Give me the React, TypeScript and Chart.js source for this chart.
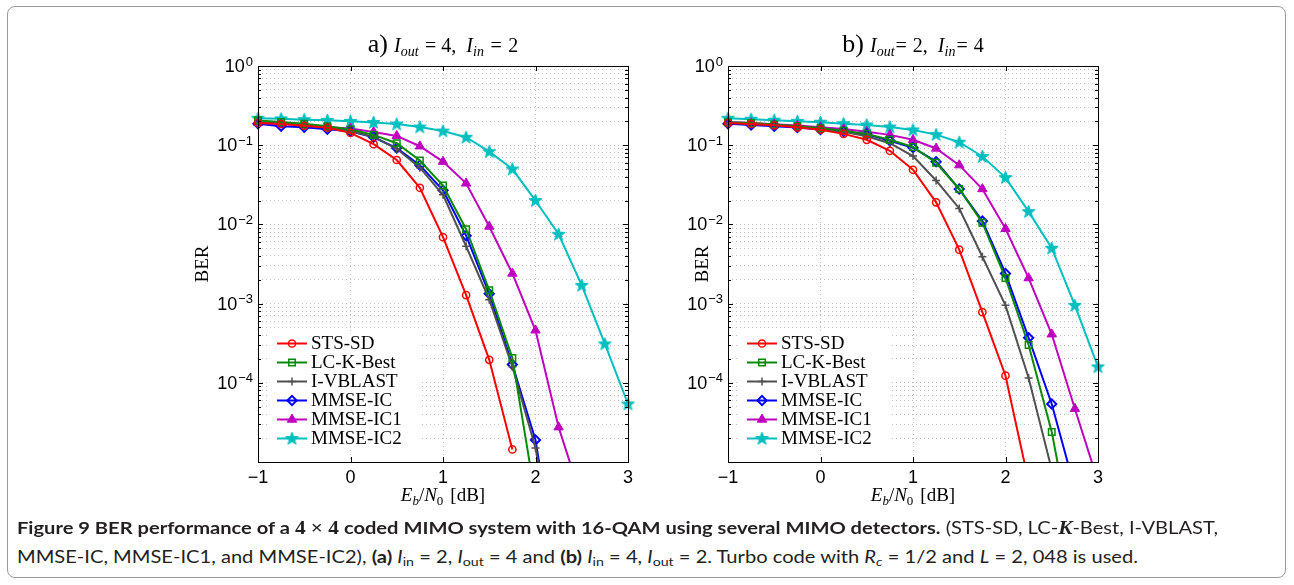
import React, { useEffect, useLayoutEffect, useRef } from 'react';
import { Chart, registerables } from 'chart.js';
import { drawPoint } from 'chart.js/helpers';

Chart.register(...registerables);

// Eb/N0 sweep in dB
const ebn0 = [-1, -0.75, -0.5, -0.25, 0, 0.25, 0.5, 0.75, 1, 1.25, 1.5, 1.75, 2, 2.25, 2.5, 2.75, 3];
const xTickValues = [-1, 0, 1, 2, 3];
const yExponents = [-5, -4, -3, -2, -1, 0];
const yLabelExponents = [-4, -3, -2, -1, 0];
const detectors = ['STS-SD', 'LC-K-Best', 'I-VBLAST', 'MMSE-IC', 'MMSE-IC1', 'MMSE-IC2'];

// (a) Iout = 4, Iin = 2
const berA_STS = [0.19, 0.185, 0.176, 0.166, 0.143, 0.103, 0.065, 0.029, 0.0069, 0.00128, 0.000195, 1.44e-5];
const berA_LCK = [0.205, 0.196, 0.186, 0.174, 0.158, 0.135, 0.106, 0.064, 0.031, 0.0087, 0.00147, 0.000206, 3.5e-6];
const berA_VBLAST = [0.195, 0.188, 0.179, 0.167, 0.151, 0.127, 0.09, 0.052, 0.0236, 0.0053, 0.00112, 0.00016, 1.5e-5, 4e-7];
const berA_IC = [0.186, 0.174, 0.168, 0.159, 0.15, 0.126, 0.092, 0.056, 0.027, 0.0072, 0.00133, 0.00017, 1.9e-5, 3e-7];
const berA_IC1 = [0.193, 0.186, 0.178, 0.168, 0.162, 0.147, 0.131, 0.097, 0.062, 0.033, 0.0094, 0.0024, 0.00046, 2.75e-5, 3.4e-6];
const berA_IC2 = [0.219, 0.215, 0.21, 0.206, 0.2, 0.194, 0.185, 0.17, 0.151, 0.126, 0.083, 0.05, 0.02, 0.0075, 0.0017, 0.00031, 5.4e-5];

// (b) Iout = 2, Iin = 4
const berB_STS = [0.19, 0.185, 0.178, 0.168, 0.157, 0.139, 0.117, 0.085, 0.049, 0.019, 0.0048, 0.00078, 0.000123, 5.6e-6];
const berB_LCK = [0.195, 0.19, 0.182, 0.174, 0.164, 0.152, 0.139, 0.117, 0.095, 0.06, 0.028, 0.0105, 0.0021, 0.0003, 2.4e-5, 7e-7];
const berB_VBLAST = [0.192, 0.187, 0.18, 0.171, 0.162, 0.148, 0.13, 0.106, 0.073, 0.0358, 0.0159, 0.0039, 0.00095, 0.000115, 8e-6];
const berB_IC = [0.186, 0.18, 0.174, 0.167, 0.158, 0.149, 0.137, 0.114, 0.093, 0.062, 0.0279, 0.011, 0.0024, 0.00037, 5.4e-5, 4.6e-6];
const berB_IC1 = [0.196, 0.19, 0.184, 0.177, 0.169, 0.16, 0.148, 0.135, 0.117, 0.091, 0.056, 0.028, 0.0088, 0.0021, 0.00041, 4.7e-5, 5.7e-6];
const berB_IC2 = [0.219, 0.213, 0.207, 0.2, 0.195, 0.187, 0.18, 0.17, 0.156, 0.136, 0.109, 0.072, 0.039, 0.0145, 0.005, 0.00095, 0.000159];

const seriesA = [berA_STS, berA_LCK, berA_VBLAST, berA_IC, berA_IC1, berA_IC2];
const seriesB = [berB_STS, berB_LCK, berB_VBLAST, berB_IC, berB_IC1, berB_IC2];

const lineColors = ['#ff0000', '#078a07', '#505050', '#0000ff', '#bf00bf', '#00bfbf'];

const SERIF = '"Liberation Serif", "Times New Roman", serif';
const SANS = '"Liberation Sans", Arial, sans-serif';

// a run of text pieces; gap = extra horizontal space before the piece
type Seg = { t: string; font: string; dy?: number; gap?: number };

function drawSegments(ctx: CanvasRenderingContext2D, segs: Seg[], cx: number, baseline: number) {
  let total = 0;
  for (const s of segs) {
    ctx.font = s.font;
    total += (s.gap || 0) + ctx.measureText(s.t).width;
  }
  let x = cx - total / 2;
  ctx.textAlign = 'left';
  ctx.textBaseline = 'alphabetic';
  for (const s of segs) {
    ctx.font = s.font;
    x += s.gap || 0;
    ctx.fillText(s.t, x, baseline + (s.dy || 0));
    x += ctx.measureText(s.t).width;
  }
}

const M = `20px ${SERIF}`;
const MI = `italic 20px ${SERIF}`;
const SUBI = `italic 14px ${SERIF}`;

const titleA: Seg[] = [
  { t: 'a)', font: `26px ${SERIF}` },
  { t: 'I', font: MI, gap: 6 },
  { t: 'out', font: SUBI, dy: 4 },
  { t: '=', font: M, gap: 6.5 },
  { t: '4,', font: M, gap: 5 },
  { t: 'I', font: MI, gap: 10 },
  { t: 'in', font: SUBI, dy: 4 },
  { t: '=', font: M, gap: 6.5 },
  { t: '2', font: M, gap: 6.5 },
];
const titleB: Seg[] = [
  { t: 'b)', font: `26px ${SERIF}` },
  { t: 'I', font: MI, gap: 6 },
  { t: 'out', font: SUBI, dy: 4 },
  { t: '=', font: M, gap: 1 },
  { t: '2,', font: M, gap: 6 },
  { t: 'I', font: MI, gap: 10 },
  { t: 'in', font: SUBI, dy: 4 },
  { t: '=', font: M, gap: 1 },
  { t: '4', font: M, gap: 6 },
];
const xTitle: Seg[] = [
  { t: 'E', font: `italic 19px ${SERIF}` },
  { t: 'b', font: `italic 13px ${SERIF}`, dy: 4 },
  { t: '/', font: `19px ${SERIF}` },
  { t: 'N', font: `italic 19px ${SERIF}` },
  { t: '0', font: `13px ${SERIF}`, dy: 4 },
  { t: '[dB]', font: `19px ${SERIF}`, gap: 7 },
];

const figureDecor = {
  id: 'figureDecor',
  afterDraw(chart: any, _args: any, opts: any) {
    const { ctx, chartArea: a } = chart;
    const xs = chart.scales.x;
    const ys = chart.scales.y;
    ctx.save();

    // legend inside the axes
    ctx.fillStyle = '#ffffff';
    ctx.fillRect(a.left + 10, a.top + 265, 152, 119);
    chart.data.datasets.forEach((ds: any, i: number) => {
      const cy = a.top + 277.5 + 19 * i;
      ctx.strokeStyle = ds.borderColor;
      ctx.lineWidth = 2;
      ctx.beginPath();
      ctx.moveTo(a.left + 19, cy);
      ctx.lineTo(a.left + 49, cy);
      ctx.stroke();
      ctx.fillStyle = ds.pointBackgroundColor;
      ctx.strokeStyle = ds.pointBorderColor;
      ctx.lineWidth = ds.pointBorderWidth;
      drawPoint(ctx, { pointStyle: ds.pointStyle, radius: ds.pointRadius, rotation: 0, borderWidth: ds.pointBorderWidth } as any, a.left + 34, cy);
      ctx.fillStyle = '#000';
      ctx.font = `19px ${SERIF}`;
      ctx.textAlign = 'left';
      ctx.textBaseline = 'middle';
      ctx.fillText(ds.label, a.left + 53, cy + 1);
    });

    // axes box and inward ticks
    ctx.strokeStyle = '#000';
    ctx.lineWidth = 1;
    ctx.strokeRect(a.left + 0.5, a.top + 0.5, a.right - a.left, a.bottom - a.top);
    ctx.beginPath();
    for (const v of xTickValues) {
      const px = Math.round(xs.getPixelForValue(v)) + 0.5;
      ctx.moveTo(px, a.bottom);
      ctx.lineTo(px, a.bottom - 5);
      ctx.moveTo(px, a.top);
      ctx.lineTo(px, a.top + 5);
    }
    for (const t of ys.ticks) {
      const py = Math.round(ys.getPixelForValue(t.value)) + 0.5;
      const len = t.major ? 5 : 3;
      ctx.moveTo(a.left, py);
      ctx.lineTo(a.left + len, py);
      ctx.moveTo(a.right, py);
      ctx.lineTo(a.right - len, py);
    }
    ctx.stroke();

    // y tick labels 10^n
    ctx.fillStyle = '#000';
    for (const e of yLabelExponents) {
      const py = ys.getPixelForValue(Math.pow(10, e));
      const exp = e === 0 ? '0' : '\u2212' + String(-e);
      ctx.font = `13px ${SANS}`;
      const ew = ctx.measureText(exp).width;
      ctx.font = `18px ${SANS}`;
      const tw = ctx.measureText('10').width;
      const right = a.left - 5;
      ctx.textAlign = 'left';
      ctx.textBaseline = 'middle';
      ctx.fillText('10', right - ew - tw - 1, py + 1);
      ctx.font = `13px ${SANS}`;
      ctx.textBaseline = 'alphabetic';
      ctx.fillText(exp, right - ew, py - 0.5);
    }

    // axis titles and panel title
    ctx.save();
    ctx.translate(a.left + opts.yTitleDx, (a.top + a.bottom) / 2);
    ctx.rotate(-Math.PI / 2);
    ctx.font = `19px ${SERIF}`;
    ctx.textAlign = 'center';
    ctx.textBaseline = 'middle';
    ctx.fillText('BER', 0, 0);
    ctx.restore();

    drawSegments(ctx, xTitle, (a.left + a.right) / 2, a.bottom + 39);
    drawSegments(ctx, opts.title, (a.left + a.right) / 2, a.top - 14);
    ctx.restore();
  },
};

function makeStar(color: string): HTMLCanvasElement {
  const c = document.createElement('canvas');
  c.width = 15;
  c.height = 15;
  const g = c.getContext('2d')!;
  g.beginPath();
  for (let k = 0; k < 10; k++) {
    const r = k % 2 === 0 ? 6.8 : 2.8;
    const ang = -Math.PI / 2 + (k * Math.PI) / 5;
    const px = 7.5 + r * Math.cos(ang);
    const py = 7.8 + r * Math.sin(ang);
    if (k === 0) g.moveTo(px, py);
    else g.lineTo(px, py);
  }
  g.closePath();
  g.fillStyle = color;
  g.strokeStyle = color;
  g.lineWidth = 1;
  g.fill();
  g.stroke();
  return c;
}

function buildDatasets(series: number[][]) {
  const star = makeStar(lineColors[5]);
  const styles: any[] = [
    { pointStyle: 'circle', pointRadius: 3.6, fill: 'rgba(255,255,255,0)', bw: 1.5 },
    { pointStyle: 'rect', pointRadius: 4.6, fill: 'rgba(255,255,255,0)', bw: 1.5 },
    { pointStyle: 'cross', pointRadius: 4, fill: 'rgba(255,255,255,0)', bw: 1.5 },
    { pointStyle: 'rectRot', pointRadius: 4.6, fill: 'rgba(255,255,255,0)', bw: 2 },
    { pointStyle: 'triangle', pointRadius: 5.4, fill: lineColors[4], bw: 1 },
    { pointStyle: star, pointRadius: 6, fill: lineColors[5], bw: 1 },
  ];
  return series.map((vals, i) => ({
    label: detectors[i],
    data: vals.map((v, k) => ({ x: ebn0[k], y: v })),
    borderColor: lineColors[i],
    backgroundColor: lineColors[i],
    borderWidth: 2,
    tension: 0,
    pointStyle: styles[i].pointStyle,
    pointRadius: styles[i].pointRadius,
    pointBorderColor: lineColors[i],
    pointBackgroundColor: styles[i].fill,
    pointBorderWidth: styles[i].bw,
    clip: { left: 10, right: 10, top: 10, bottom: 0 },
  }));
}

function yTickList() {
  const out: { value: number; major: boolean }[] = [];
  for (const e of yExponents) {
    if (e === 0) {
      out.push({ value: 1, major: true });
      continue;
    }
    for (let m = 1; m <= 9; m++) out.push({ value: m * Math.pow(10, e), major: m === 1 });
  }
  return out;
}

function BerPanel(props: { left: number; top: number; series: number[][]; title: Seg[]; yTitleDx: number }) {
  const ref = useRef<HTMLCanvasElement>(null);
  useEffect(() => {
    if (!ref.current) return;
    const gridCommon = { color: '#c2c2c2', lineWidth: 1, drawTicks: false };
    const chart = new Chart(ref.current, {
      type: 'line',
      data: { datasets: buildDatasets(props.series) as any },
      plugins: [figureDecor],
      options: {
        responsive: false,
        animation: false,
        devicePixelRatio: 1,
        events: [],
        layout: { padding: { top: 46, right: 22, bottom: 0, left: 0 } },
        plugins: {
          legend: { display: false },
          tooltip: { enabled: false },
          title: { display: false },
          figureDecor: { title: props.title, yTitleDx: props.yTitleDx },
        } as any,
        scales: {
          x: {
            type: 'linear',
            min: -1,
            max: 3,
            afterBuildTicks: (s: any) => {
              s.ticks = xTickValues.map((v) => ({ value: v }));
            },
            afterFit: (s: any) => {
              s.height = 58;
            },
            grid: gridCommon,
            border: { display: false, dash: [1, 3] },
            ticks: {
              autoSkip: false,
              maxRotation: 0,
              padding: 5,
              color: '#000',
              font: { family: SANS, size: 18 },
              callback: (v: any) => (Number(v) < 0 ? '\u2212' + String(-Number(v)) : String(v)),
            },
          },
          y: {
            type: 'logarithmic',
            min: 1e-5,
            max: 1,
            afterBuildTicks: (s: any) => {
              s.ticks = yTickList();
            },
            afterFit: (s: any) => {
              s.width = 78;
            },
            grid: gridCommon,
            border: { display: false, dash: [1, 3] },
            ticks: { display: false },
          },
        },
      } as any,
    });
    return () => chart.destroy();
  }, []);
  return (
    <canvas
      ref={ref}
      width={470}
      height={500}
      style={{ position: 'absolute', left: props.left, top: props.top, width: 470, height: 500 }}
    />
  );
}

function FitLine(props: { top: number; width: number; children: React.ReactNode }) {
  const ref = useRef<HTMLSpanElement>(null);
  useLayoutEffect(() => {
    const el = ref.current;
    if (!el) return;
    const fit = () => {
      el.style.transform = 'none';
      const w = el.getBoundingClientRect().width;
      if (w > 0) el.style.transform = `scaleX(${props.width / w})`;
    };
    fit();
    if ((document as any).fonts && (document as any).fonts.ready) (document as any).fonts.ready.then(fit);
  }, []);
  return (
    <div style={{ position: 'absolute', left: 17, top: props.top, whiteSpace: 'nowrap', lineHeight: '20px' }}>
      <span ref={ref} style={{ display: 'inline-block', transformOrigin: '0 50%' }}>
        {props.children}
      </span>
    </div>
  );
}

const sub: React.CSSProperties = { fontSize: 12, verticalAlign: -3, lineHeight: 0 };

export default function App() {
  return (
    <div
      style={{
        position: 'absolute',
        left: 0,
        top: 0,
        width: 1294,
        height: 585,
        background: '#fff',
        overflow: 'hidden',
      }}
    >
      <div
        style={{
          position: 'absolute',
          left: 7,
          top: 6,
          width: 1279,
          height: 572,
          border: '1px solid #9a9a9a',
          borderRadius: 8,
          boxSizing: 'border-box',
        }}
      />
      <BerPanel left={180} top={20} series={seriesA} title={titleA} yTitleDx={-55} />
      <BerPanel left={650} top={20} series={seriesB} title={titleB} yTitleDx={-25} />
      <div style={{ fontFamily: 'Lato, "Open Sans", sans-serif', fontSize: 17, color: '#231f20' }}>
        <FitLine top={518} width={1201}>
          <b>
            Figure 9 BER performance of a{' '}
            <span style={{ fontFamily: SERIF, fontSize: 18 }}>4 × 4</span> coded MIMO system with 16-QAM using several
            MIMO detectors.
          </b>{' '}
          (STS-SD, LC-
          <b>
            <i style={{ fontFamily: SERIF, fontSize: 18 }}>K</i>
          </b>
          -Best, I-VBLAST,
        </FitLine>
        <FitLine top={547} width={1121}>
          MMSE-IC, MMSE-IC1, and MMSE-IC2), <b>(a)</b> <i>I</i>
          <span style={sub}>in</span> = 2, <i>I</i>
          <span style={sub}>out</span> = 4 and <b>(b)</b> <i>I</i>
          <span style={sub}>in</span> = 4, <i>I</i>
          <span style={sub}>out</span> = 2. Turbo code with <i>R</i>
          <span style={sub}>
            <i>c</i>
          </span>{' '}
          = 1/2 and <i>L</i> = 2, 048 is used.
        </FitLine>
      </div>
    </div>
  );
}
